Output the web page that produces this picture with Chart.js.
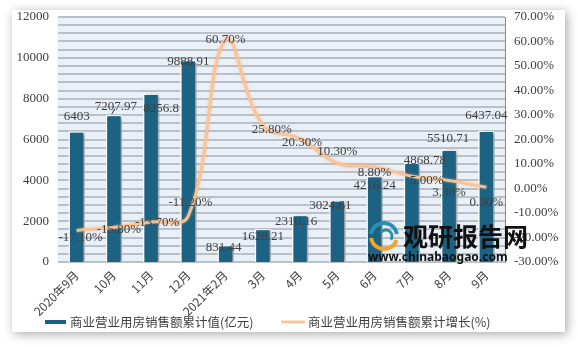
<!DOCTYPE html>
<html><head><meta charset="utf-8">
<script src="https://cdn.jsdelivr.net/npm/chart.js@4/dist/chart.umd.min.js"></script>
<style>html,body{margin:0;padding:0;background:#fff;}#wrap{width:578px;height:347px;}</style>
</head><body><div id="wrap"><canvas id="c" width="578" height="347"></canvas></div>
<script>
const categories = ['2020年9月','10月','11月','12月','2021年2月','3月','4月','5月','6月','7月','8月','9月'];
const salesValue = [6403, 7207.97, 8256.8, 9888.91, 831.44, 1628.21, 2310.16, 3024.61, 4216.24, 4868.78, 5510.71, 6437.04];
const salesGrowth = [-17.10, -15.80, -13.70, -11.20, 60.70, 25.80, 20.30, 10.30, 8.80, 5.00, 3.30, 0.50];
const barLabels = ['6403','7207.97','8256.8','9888.91','831.44','1628.21','2310.16','3024.61','4216.24','4868.78','5510.71','6437.04'];
const lineLabels = ['-17.10%','-15.80%','-13.70%','-11.20%','60.70%','25.80%','20.30%','10.30%','8.80%','5.00%','3.30%','0.50%'];
const seriesNames = ['商业营业用房销售额累计值(亿元)','商业营业用房销售额累计增长(%)'];
const leftTicks = [0, 2000, 4000, 6000, 8000, 10000, 12000];
const minorStep = 400;

const BAR = '#1b6283', LINE = 'rgba(248,196,150,0.95)';
const numFont = '13px "Liberation Serif", "Noto Sans CJK SC", serif';
// label placement nudges (style only)
const barOff = [[0,-15],[2,-8],[10,15],[0,1],[-2,3],[0,8],[-4,7],[-7,5],[0,10],[13,-2],[-1,-11],[0,-15]];
const lineOff = [[4,7],[5,2],[6,1],[2,-13],[0,0],[9,4],[2,4],[0,-12],[0,6],[15,4],[0,12],[0,15]];

const framePlugin = {
  id:'frame',
  beforeDraw(chart){
    const ctx = chart.ctx;
    ctx.save();
    ctx.shadowColor='rgba(0,0,0,0.35)'; ctx.shadowBlur=10; ctx.shadowOffsetX=2; ctx.shadowOffsetY=2;
    ctx.fillStyle='#fff'; ctx.fillRect(12,10,553,322);
    ctx.restore();
    const a = chart.chartArea;
    ctx.save(); ctx.fillStyle='#eaf0f7'; ctx.fillRect(a.left,a.top,a.right-a.left,a.bottom-a.top);
    ctx.restore();
  },
  beforeDatasetsDraw(chart){
    // minor gridlines through the y scale
    const ctx = chart.ctx, a = chart.chartArea, ys = chart.scales.y;
    ctx.save();
    ctx.fillStyle='#b9c0c7';
    for(let v=ys.min; v<=ys.max; v+=minorStep){
      const py = Math.round(ys.getPixelForValue(v));
      ctx.fillRect(a.left, py-1, a.right-a.left, 2);
    }
    ctx.restore();
  },
  beforeDatasetDraw(chart,args){
    if(args.index===0){ const ctx=chart.ctx; ctx.save(); ctx.shadowColor='rgba(0,0,0,0.4)'; ctx.shadowBlur=4; ctx.shadowOffsetX=3; ctx.shadowOffsetY=1; }
    if(args.index===1){ const ctx=chart.ctx; ctx.save(); ctx.shadowColor='rgba(248,170,110,0.6)'; ctx.shadowBlur=3; }
  },
  afterDatasetDraw(chart,args){ chart.ctx.restore(); },
  afterDatasetsDraw(chart){
    const ctx = chart.ctx;
    ctx.save();
    // watermark
    const cx=384, cy=236;
    ctx.lineWidth=4;
    ctx.strokeStyle='#2b8fb0'; ctx.beginPath(); ctx.arc(cx,cy,13,Math.PI*1.05,Math.PI*1.95); ctx.stroke();
    ctx.strokeStyle='#f2a32a'; ctx.beginPath(); ctx.arc(cx,cy,13,Math.PI*0.1,Math.PI*0.95); ctx.stroke();
    ctx.strokeStyle='#2b8fb0'; ctx.lineWidth=3; ctx.beginPath(); ctx.arc(cx+2,cy,6,Math.PI*1.2,Math.PI*2.2); ctx.stroke();
    ctx.fillStyle='#111';
    ctx.font='bold 25px "Noto Sans CJK SC", sans-serif'; ctx.textBaseline='middle'; ctx.textAlign='left';
    ctx.fillText('观研报告网',403,236);
    ctx.font='bold 12px "Noto Sans", "DejaVu Sans", sans-serif';
    ctx.fillText('www.chinabaogao.com',368,258);
    // data labels
    ctx.font=numFont; ctx.fillStyle='#404040'; ctx.textAlign='center'; ctx.textBaseline='middle';
    const m0 = chart.getDatasetMeta(0), m1 = chart.getDatasetMeta(1);
    m0.data.forEach((el,i)=>{ ctx.fillText(barLabels[i], el.x+barOff[i][0], el.y+barOff[i][1]); });
    m1.data.forEach((el,i)=>{ ctx.fillText(lineLabels[i], el.x+lineOff[i][0], el.y+lineOff[i][1]); });
    // leader line for 10月
    const e1 = m0.data[1]; ctx.strokeStyle='#222'; ctx.lineWidth=1; ctx.beginPath(); ctx.moveTo(e1.x-2,e1.y-1); ctx.lineTo(e1.x+1,e1.y-6); ctx.stroke();
    ctx.restore();
  },
  afterDraw(chart){
    // legend
    const ctx = chart.ctx; ctx.save();
    const y = 322;
    ctx.font='12.5px "Noto Sans CJK SC", sans-serif'; ctx.textBaseline='middle'; ctx.textAlign='left';
    ctx.fillStyle=BAR; ctx.fillRect(45,y-2,21,4);
    ctx.fillStyle='#404040'; ctx.fillText(seriesNames[0],70,y);
    ctx.fillStyle=LINE; ctx.fillRect(281,y-1.5,24,3);
    ctx.fillStyle='#404040'; ctx.fillText(seriesNames[1],308,y);
    ctx.restore();
  }
};

new Chart(document.getElementById('c'), {
  data:{
    labels:categories,
    datasets:[
      {type:'bar', label:seriesNames[0], data:salesValue, yAxisID:'y', backgroundColor:BAR, borderColor:'#fff', borderWidth:1.5, barPercentage:0.44, categoryPercentage:1, order:2},
      {type:'line', label:seriesNames[1], data:salesGrowth, yAxisID:'y1', borderColor:LINE, backgroundColor:LINE, borderWidth:3, tension:0.4, pointRadius:0, order:1}
    ]
  },
  options:{
    responsive:false, animation:false, devicePixelRatio:1,
    layout:{padding:{left:0,right:0,top:17,bottom:20}},
    plugins:{ tooltip:{enabled:false}, legend:{display:false} },
    scales:{
      x:{grid:{display:false, drawTicks:false}, border:{display:true,color:'#666',width:1},
        ticks:{font:{family:'"Noto Sans CJK SC", sans-serif', size:12}, color:'#404040', maxRotation:45, minRotation:45, padding:6, autoSkip:false},
        afterFit(s){ s.height = 65; }},
      y:{position:'left', min:0, max:12000, grid:{display:false, drawTicks:false}, border:{display:false},
        afterBuildTicks(s){ s.ticks = leftTicks.map(v=>({value:v})); },
        ticks:{autoSkip:false, font:{family:'"Liberation Serif", serif', size:13}, color:'#404040', padding:9, callback:(v)=>String(v)},
        afterFit(s){ s.width = 58; }},
      y1:{position:'right', min:-30, max:70, grid:{display:false, drawOnChartArea:false, drawTicks:true, tickLength:5, color:'#888'}, border:{display:true,color:'#888',width:1},
        ticks:{stepSize:10, autoSkip:false, font:{family:'"Liberation Serif", serif', size:13}, color:'#404040', padding:4, callback:(v)=> v.toFixed(2)+'%'},
        afterFit(s){ s.width = 73; }}
    }
  },
  plugins:[framePlugin]
});
</script></body></html>
